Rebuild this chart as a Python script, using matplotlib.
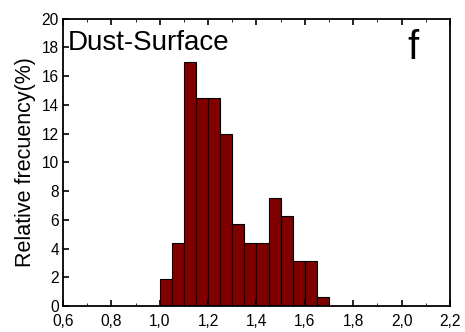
import numpy as np
import matplotlib
matplotlib.use("Agg")
import matplotlib.pyplot as plt
from matplotlib.ticker import MultipleLocator

plt.rcParams["font.family"] = ["Liberation Sans", "DejaVu Sans"]

# bin left edges and relative frequency (%)
bin_left = [1.00, 1.05, 1.10, 1.15, 1.20, 1.25, 1.30, 1.35, 1.40, 1.45, 1.50, 1.55, 1.60, 1.65]
freq = [1.9, 4.4, 17.0, 14.5, 14.5, 11.95, 5.7, 4.4, 4.4, 7.55, 6.3, 3.15, 3.15, 0.63]
bin_width = 0.05

x_ticks = [0.6, 0.8, 1.0, 1.2, 1.4, 1.6, 1.8, 2.0, 2.2]
x_labels = ["0,6", "0,8", "1,0", "1,2", "1,4", "1,6", "1,8", "2,0", "2,2"]
y_ticks = [0, 2, 4, 6, 8, 10, 12, 14, 16, 18, 20]

fig = plt.figure(figsize=(4.65, 3.32), dpi=100)
ax = fig.add_axes([0.1355, 0.078, 0.832, 0.866])

ax.bar(bin_left, freq, width=bin_width, align="edge",
       color="#800000", edgecolor="black", linewidth=0.8)

ax.set_xlim(0.6, 2.2)
ax.set_ylim(0, 20)
ax.set_xticks(x_ticks)
ax.set_xticklabels(x_labels)
ax.set_yticks(y_ticks)
ax.xaxis.set_minor_locator(MultipleLocator(0.1))
ax.tick_params(axis="both", which="major", direction="in", labelsize=11.2,
               length=4, width=1.2, top=True)
ax.tick_params(axis="x", which="major", pad=6)
ax.tick_params(axis="y", which="major", pad=3)
ax.tick_params(axis="x", which="minor", direction="in", length=2.5, top=True)
for s in ax.spines.values():
    s.set_linewidth(1.3)

ax.set_ylabel("Relative frecuency(%)", fontsize=15.5, labelpad=4)
ax.text(0.013, 0.96, "Dust-Surface", transform=ax.transAxes,
        fontsize=20, va="top", ha="left")
ax.text(0.905, 0.965, "f", transform=ax.transAxes,
        fontsize=29, va="top", ha="center")

fig.savefig("out.png", dpi=100)
